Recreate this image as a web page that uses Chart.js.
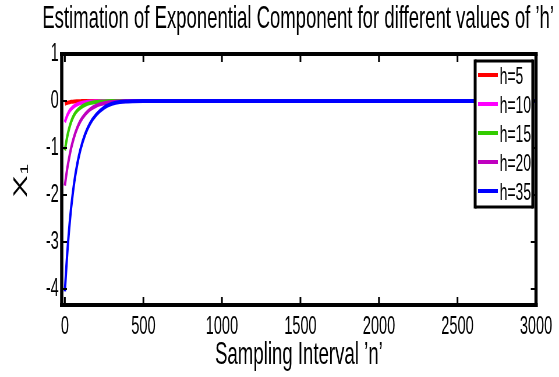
<!DOCTYPE html>
<html>
<head>
<meta charset="utf-8">
<script src="https://cdn.jsdelivr.net/npm/chart.js@4/dist/chart.umd.min.js"></script>
<style>
  html, body { margin: 0; padding: 0; background: #fff; overflow: hidden; }
</style>
</head>
<body>
<canvas id="c" width="960" height="377" style="position:absolute;left:0;top:0;width:559px;height:377px;"></canvas>
<script>
// ---- data ----
const nValues = [0, 10, 20, 30, 40, 60, 80, 100, 130, 160, 200, 250, 300, 350, 400, 500, 1000, 1500, 2000, 2500, 3000];
const seriesLabels = ['h=5', 'h=10', 'h=15', 'h=20', 'h=35'];
const h5  = [-0.06, -0.045, -0.035, -0.025, -0.018, -0.01, -0.006, -0.003, 0, 0, 0, 0, 0, 0, 0, 0, 0, 0, 0, 0, 0];
const h10 = [-0.45, -0.35, -0.27, -0.21, -0.17, -0.11, -0.07, -0.045, -0.025, -0.012, -0.005, 0, 0, 0, 0, 0, 0, 0, 0, 0, 0];
const h15 = [-1.05, -0.85, -0.68, -0.55, -0.44, -0.29, -0.2, -0.14, -0.08, -0.045, -0.02, -0.01, 0, 0, 0, 0, 0, 0, 0, 0, 0];
const h20 = [-1.8, -1.55, -1.34, -1.16, -1.0, -0.75, -0.56, -0.42, -0.28, -0.18, -0.1, -0.05, -0.02, -0.01, 0, 0, 0, 0, 0, 0, 0];
const h35 = [-4.05, -3.5, -3.02, -2.62, -2.27, -1.72, -1.32, -1.02, -0.7, -0.48, -0.29, -0.14, -0.06, -0.02, -0.01, 0, 0, 0, 0, 0, 0];
const xTicks = [0, 500, 1000, 1500, 2000, 2500, 3000];
const yTicks = [-4, -3, -2, -1, 0, 1];
const colors = ['#ff0000', '#ff00ff', '#33cc00', '#bf00bf', '#0000ff'];
const chartTitle = "Estimation of Exponential Component for different values of \u2019h\u2019";
const yLabelMain = 'X';
const yLabelSub = '1';

const allSeries = [h5, h10, h15, h20, h35];
const FONT = '"Liberation Sans", Arial, Helvetica, sans-serif';

const datasets = allSeries.map((s, i) => ({
  label: seriesLabels[i],
  data: nValues.map((n, j) => ({ x: n, y: s[j] })),
  borderColor: colors[i],
  backgroundColor: colors[i],
  borderWidth: 4,
  pointRadius: 0,
  cubicInterpolationMode: 'monotone',
  fill: false,
  order: allSeries.length - i
}));

const framePlugin = {
  id: 'frame',
  afterDraw(chart) {
    const { ctx, chartArea: a, scales: { x, y } } = chart;
    ctx.save();
    ctx.strokeStyle = '#000';
    const line = (x1, y1, x2, y2) => { ctx.beginPath(); ctx.moveTo(x1, y1); ctx.lineTo(x2, y2); ctx.stroke(); };
    // inward ticks
    ctx.lineWidth = 3;
    xTicks.forEach(v => {
      const px = x.getPixelForValue(v);
      line(px, a.bottom, px, a.bottom - 8);
      line(px, a.top, px, a.top + 8);
    });
    ctx.lineWidth = 2;
    yTicks.forEach(v => {
      const py = y.getPixelForValue(v);
      line(a.left, py, a.left + 9, py);
      line(a.right, py, a.right - 9, py);
    });
    // box
    ctx.lineWidth = 4;
    line(a.left - 3, a.top, a.right + 3, a.top);
    line(a.left - 3, a.bottom, a.right + 3, a.bottom);
    ctx.lineWidth = 5.5;
    line(a.left, a.top, a.left, a.bottom + 2);
    line(a.right, a.top, a.right, a.bottom + 2);

    // title
    ctx.fillStyle = '#000';
    ctx.textAlign = 'center';
    ctx.textBaseline = 'alphabetic';
    let ts = 30;
    ctx.font = ts + 'px ' + FONT;
    const w = ctx.measureText(chartTitle).width;
    ts = Math.max(26, Math.min(32, ts * 879 / w));
    ctx.font = ts + 'px ' + FONT;
    ctx.fillText(chartTitle, 512, 28);

    // y-axis label X with subscript 1 (rotated)
    ctx.save();
    ctx.translate(46, (a.top + a.bottom) / 2 + 7);
    ctx.rotate(-Math.PI / 2);
    ctx.textAlign = 'center';
    ctx.font = '33px ' + FONT;
    ctx.fillText(yLabelMain, 0, 0);
    ctx.textAlign = 'left';
    ctx.font = '19px ' + FONT;
    ctx.fillText(yLabelSub, 12, 2);
    ctx.restore();

    // legend box
    const lx0 = 816, lx1 = 915, ly0 = 61, ly1 = 207;
    ctx.fillStyle = '#fff';
    ctx.fillRect(lx0, ly0, lx1 - lx0, ly1 - ly0);
    ctx.lineWidth = 3;
    line(lx0, ly0, lx1, ly0);
    line(lx0, ly1, lx1, ly1);
    ctx.lineWidth = 5;
    line(lx0, ly0 - 1.5, lx0, ly1 + 1.5);
    line(lx1, ly0 - 1.5, lx1, ly1 + 1.5);
    ctx.font = '24px ' + FONT;
    ctx.textBaseline = 'middle';
    ctx.textAlign = 'left';
    chart.data.datasets.forEach((ds, i) => {
      const yy = 75 + i * 29;
      ctx.strokeStyle = ds.borderColor;
      ctx.lineWidth = 4;
      line(821, yy, 855, yy);
      ctx.fillStyle = '#000';
      ctx.fillText(ds.label, 858, yy + 2);
    });
    ctx.restore();
  }
};

new Chart(document.getElementById('c'), {
  type: 'line',
  data: { datasets },
  options: {
    responsive: false,
    devicePixelRatio: 1,
    animation: false,
    layout: { padding: { top: 54, right: 39.5, bottom: 0, left: 0 } },
    plugins: {
      legend: { display: false },
      tooltip: { enabled: false },
      title: { display: false }
    },
    scales: {
      x: {
        type: 'linear',
        min: -20,
        max: 3000,
        afterFit(s) { s.height = 72; },
        afterBuildTicks(s) { s.ticks = xTicks.map(v => ({ value: v })); },
        grid: { display: false, drawTicks: false },
        border: { display: false },
        ticks: {
          autoSkip: false,
          padding: 7,
          color: '#000',
          maxRotation: 0,
          font: { family: FONT, size: 25 },
          callback: v => String(v)
        },
        title: {
          display: true,
          text: 'Sampling Interval \u2019n\u2019',
          color: '#000',
          font: { family: FONT, size: 32 },
          padding: { top: 0, bottom: 2.8 }
        }
      },
      y: {
        type: 'linear',
        min: -4.34,
        max: 1,
        afterFit(s) { s.width = 106; },
        afterBuildTicks(s) { s.ticks = yTicks.map(v => ({ value: v })); },
        grid: { display: false, drawTicks: false },
        border: { display: false },
        ticks: {
          autoSkip: false,
          padding: 5,
          color: '#000',
          font: { family: FONT, size: 25 },
          callback: v => String(v)
        }
      }
    }
  },
  plugins: [framePlugin]
});
</script>
</body>
</html>
